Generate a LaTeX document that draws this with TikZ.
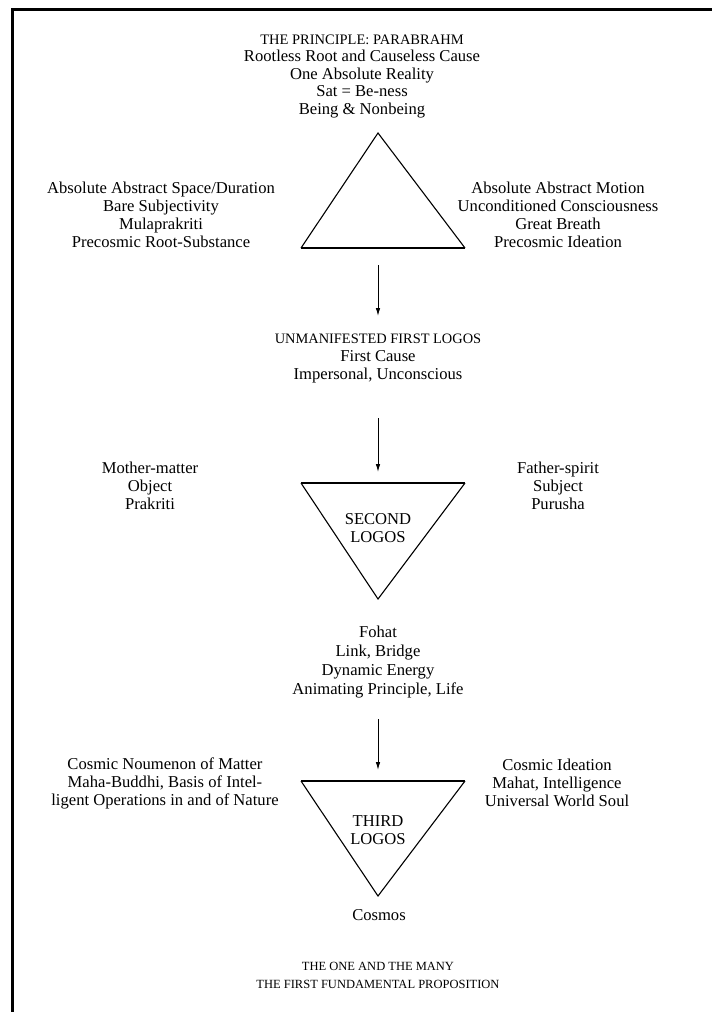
\documentclass[tikz,border=0pt]{standalone}
\usepackage{fontspec}
\setmainfont{Liberation Serif}
\usetikzlibrary{arrows.meta}
\newcommand{\titlecaps}{\fontsize{14.5}{17}\selectfont}
\newcommand{\unmcaps}{\fontsize{14.4}{18}\selectfont}
\begin{document}
\begin{tikzpicture}[x=1pt,y=-1pt,
  lbl/.style={font=\fontsize{16.6}{18}\selectfont, align=center, inner sep=0pt},
  tri/.style={line width=1.1pt, line join=miter},
  edgeline/.style={line width=1.9pt},
  arr/.style={line width=0.9pt, -{Latex[length=8pt,width=4.5pt]}},
  framestyle/.style={line width=3pt}]
\useasboundingbox (0,0) rectangle (712,1012);
% frame
\coordinate (fr1) at (712,9);
\coordinate (fr2) at (12,9);
\coordinate (fr3) at (12,1012);
\draw[framestyle] (fr1) -- (fr2) -- (fr3);

% title block
\node[lbl, font=\fontsize{16.6}{17.5}\selectfont] (title) at (362,76)
  {{\titlecaps THE PRINCIPLE: PARABRAHM}\\Rootless Root and Causeless Cause\\One Absolute Reality\\Sat = Be-ness\\Being \& Nonbeing};

% triangle 1
\coordinate (t1a) at (378,133);
\coordinate (t1l) at (301,248);
\coordinate (t1r) at (465,248);
\draw[tri] (t1l) -- (t1a) -- (t1r);
\draw[edgeline] (t1l) -- (t1r);

\node[lbl] (l1) at (161,215) {Absolute Abstract Space/Duration\\Bare Subjectivity\\Mulaprakriti\\Precosmic Root-Substance};
\node[lbl] (r1) at (558,215) {Absolute Abstract Motion\\Unconditioned Consciousness\\Great Breath\\Precosmic Ideation};

\coordinate (a1s) at (378,265);
\coordinate (a1e) at (378,316);
\draw[arr] (a1s) -- (a1e);

\node[lbl] (unm) at (378,358)
  {{\unmcaps UNMANIFESTED FIRST LOGOS}\\First Cause\\Impersonal, Unconscious};

\coordinate (a2s) at (378,418);
\coordinate (a2e) at (378,472);
\draw[arr] (a2s) -- (a2e);

% triangle 2
\coordinate (t2l) at (301,483);
\coordinate (t2r) at (465,483);
\coordinate (t2a) at (378,599);
\draw[tri] (t2l) -- (t2a) -- (t2r);
\draw[edgeline] (t2l) -- (t2r);
\node[lbl] (second) at (378,528) {SECOND\\LOGOS};

\node[lbl] (mother) at (150,485.5) {Mother-matter\\Object\\Prakriti};
\node[lbl] (father) at (558,485.5) {Father-spirit\\Subject\\Purusha};

\node[lbl, font=\fontsize{16.6}{18.7}\selectfont] (fohat) at (378,662) {Fohat\\Link, Bridge\\Dynamic Energy\\Animating Principle, Life};

\coordinate (a3s) at (378,719);
\coordinate (a3e) at (378,770);
\draw[arr] (a3s) -- (a3e);

% triangle 3
\coordinate (t3l) at (301,781);
\coordinate (t3r) at (465,781);
\coordinate (t3a) at (378,896);
\draw[tri] (t3l) -- (t3a) -- (t3r);
\draw[edgeline] (t3l) -- (t3r);
\node[lbl] (third) at (378,830) {THIRD\\LOGOS};

\node[lbl] (cnl) at (165,783) {Cosmic Noumenon of Matter\\Maha-Buddhi, Basis of Intel-\\ligent Operations in and of Nature};
\node[lbl] (cnr) at (557,783) {Cosmic Ideation\\Mahat, Intelligence\\Universal World Soul};

\node[lbl] (cosmos) at (379,915) {Cosmos};

\node[lbl, font=\fontsize{12.5}{18}\selectfont] (bottom) at (378,975) {THE ONE AND THE MANY\\THE FIRST FUNDAMENTAL PROPOSITION};
\end{tikzpicture}
\end{document}
